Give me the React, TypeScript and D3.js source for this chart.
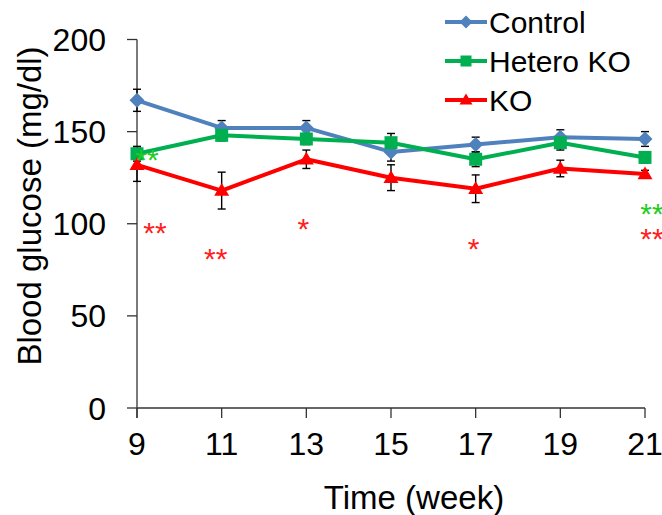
import React from "react";
import * as d3 from "d3";

const weeks = [9, 11, 13, 15, 17, 19, 21];
const controlValues = [167, 152, 152, 139, 143, 147, 146];
const controlErr = [6, 4, 4, 5, 4, 4, 4];
const heteroValues = [138, 148, 146, 144, 135, 144, 136];
const heteroErr = [4, 3, 3, 5, 4, 4, 3];
const koValues = [132, 118, 135, 125, 119, 130, 127];
const koErr = [9, 10, 5, 7, 7.5, 4.5, 2];
const yTicks = [0, 50, 100, 150, 200];
const seriesNames = ["Control", "Hetero KO", "KO"];
const seriesColors = ["#4F81BD", "#00B050", "#FF0000"];
const seriesShapes = ["diamond", "square", "triangle"];

// significance marks
const sigWeeks = [9, 9, 11, 13, 17, 21, 21];
const sigValues = [138.4, 98.8, 84.7, 101, 90, 109, 95.5];
const sigTexts = ["**", "**", "**", "*", "*", "**", "**"];
const sigColorIdx = [1, 2, 2, 2, 2, 1, 2];
const sigOffsets = [10, 18, -6, -3, -2, 7, 7];

const W = 662;
const H = 515;
const FONT = "'Liberation Sans', Arial, sans-serif";

function Marker({ shape, x, y, color, size }: { shape: string; x: number; y: number; color: string; size: number }) {
  if (shape === "diamond") {
    const s = size / 2 + 1;
    return <path d={`M${x},${y - s}L${x + s},${y}L${x},${y + s}L${x - s},${y}Z`} fill={color} />;
  }
  if (shape === "square") {
    const s = size / 2;
    return <rect x={x - s} y={y - s} width={size} height={size} fill={color} />;
  }
  const s = size / 2 + 1;
  return <path d={`M${x},${y - s}L${x + s},${y + s * 0.7}L${x - s},${y + s * 0.7}Z`} fill={color} />;
}

export default function App() {
  const x = d3.scaleLinear().domain([9, 21]).range([137, 645]);
  const y = d3.scaleLinear().domain([0, 200]).range([408, 39.5]);
  const line = d3
    .line<[number, number]>()
    .x((d) => x(d[0]))
    .y((d) => y(d[1]));

  const series = [
    { vals: controlValues, errs: controlErr },
    { vals: heteroValues, errs: heteroErr },
    { vals: koValues, errs: koErr },
  ];
  const axisColor = "#333";

  return (
    <svg width={W} height={H} style={{ position: "absolute", left: 0, top: 0, background: "#fff" }} fontFamily={FONT}>
      <rect width={W} height={H} fill="#fff" />
      {/* Y axis */}
      <line x1={x(9)} x2={x(9)} y1={y(200)} y2={y(0) + 10} stroke={axisColor} strokeWidth={1.3} />
      {yTicks.map((t) => (
        <g key={t}>
          <line x1={x(9) - 10} x2={x(9)} y1={y(t)} y2={y(t)} stroke={axisColor} strokeWidth={1.3} />
          <text x={106} y={y(t) + 11.5} textAnchor="end" fontSize={32} fill="#000">
            {t}
          </text>
        </g>
      ))}
      {/* X axis */}
      <line x1={x(9)} x2={x(21)} y1={y(0)} y2={y(0)} stroke={axisColor} strokeWidth={1.3} />
      {weeks.map((w) => (
        <g key={w}>
          <line x1={x(w)} x2={x(w)} y1={y(0)} y2={y(0) + 10} stroke={axisColor} strokeWidth={1.3} />
          <text x={x(w)} y={455} textAnchor="middle" fontSize={32} fill="#000">
            {w}
          </text>
        </g>
      ))}
      <text x={414} y={509} textAnchor="middle" fontSize={33} fill="#000">
        Time (week)
      </text>
      <text transform={`translate(41,206) rotate(-90)`} textAnchor="middle" fontSize={33} fill="#000">
        Blood glucose (mg/dl)
      </text>

      {/* series */}
      {series.map((s, i) => {
        const pts = weeks.map((w, j) => [w, s.vals[j]] as [number, number]);
        return (
          <path
            key={i}
            d={line(pts) || ""}
            fill="none"
            stroke={seriesColors[i]}
            strokeWidth={4}
            strokeLinejoin="round"
          />
        );
      })}
      {series.map((s, i) => (
        <g key={"e" + i}>
          {weeks.map((w, j) => {
            const cx = x(w);
            const top = y(s.vals[j] + s.errs[j]);
            const bot = y(s.vals[j] - s.errs[j]);
            return (
              <g key={j} stroke="#000" strokeWidth={1.4}>
                <line x1={cx} x2={cx} y1={top} y2={bot} />
                <line x1={cx - 4} x2={cx + 4} y1={top} y2={top} />
                <line x1={cx - 4} x2={cx + 4} y1={bot} y2={bot} />
              </g>
            );
          })}
        </g>
      ))}
      {series.map((s, i) => (
        <g key={"m" + i}>
          {weeks.map((w, j) => (
            <Marker key={j} shape={seriesShapes[i]} x={x(w)} y={y(s.vals[j])} color={seriesColors[i]} size={13} />
          ))}
        </g>
      ))}

      {/* significance */}
      {sigWeeks.map((w, k) => (
        <text
          key={k}
          x={x(w) + sigOffsets[k]}
          y={y(sigValues[k]) + 17}
          textAnchor="middle"
          fontSize={30}
          fill={sigColorIdx[k] === 1 ? "#22CC22" : "#FF2020"}
        >
          {sigTexts[k]}
        </text>
      ))}

      {/* legend */}
      {seriesNames.map((n, i) => {
        const ly = [22, 61, 100][i];
        return (
          <g key={n}>
            <line x1={445} x2={487} y1={ly} y2={ly} stroke={seriesColors[i]} strokeWidth={4} />
            <Marker shape={seriesShapes[i]} x={466} y={ly} color={seriesColors[i]} size={11} />
            <text x={489} y={ly + 11} fontSize={30} fill="#000">
              {n}
            </text>
          </g>
        );
      })}
    </svg>
  );
}
